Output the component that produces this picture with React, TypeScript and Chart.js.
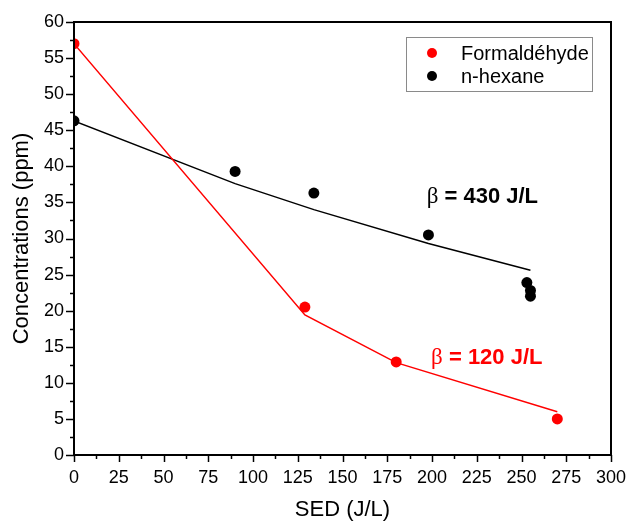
import { useEffect, useRef } from 'react';
import { Chart, registerables } from 'chart.js';

Chart.register(...registerables);

const seriesLabels = ['Formaldéhyde', 'n-hexane'];
const seriesColors = ['#ff0000', '#000000'];

const formaldehydeSED = [0, 129, 180, 270];
const formaldehydeConc = [57, 20.5, 12.9, 5];
const formaldehydeFitSED = [0, 129, 180, 270];
const formaldehydeFit = [57, 19.4, 12.8, 6.0];

const hexaneSED = [0, 90, 134, 198, 253, 255, 255];
const hexaneConc = [46.3, 39.3, 36.3, 30.5, 23.9, 22.8, 22.0];
const hexaneFitSED = [0, 90, 134, 198, 255];
const hexaneFit = [46.3, 37.6, 34.0, 29.3, 25.6];

const xTicks = [0, 25, 50, 75, 100, 125, 150, 175, 200, 225, 250, 275, 300];
const yTicks = [0, 5, 10, 15, 20, 25, 30, 35, 40, 45, 50, 55, 60];

const betaNotes = [
  { beta: 'β', text: ' = 430 J/L', x: 197, y: 36, color: '#000000' },
  { beta: 'β', text: ' = 120 J/L', x: 199.5, y: 13.7, color: '#ff0000' },
];

const FONT = '"Liberation Sans", Arial, sans-serif';

const decorPlugin = {
  id: 'decor',
  afterDraw(chart: any) {
    const ctx = chart.ctx;
    const { left, right, top, bottom } = chart.chartArea;
    const xs = chart.scales.x;
    const ys = chart.scales.y;
    ctx.save();
    // ticks
    ctx.strokeStyle = '#000';
    ctx.lineWidth = 1.5;
    for (let i = 0; i < xTicks.length; i++) {
      const px = Math.round(xs.getPixelForValue(xTicks[i])) + 0.5;
      ctx.beginPath();
      ctx.moveTo(px, bottom);
      ctx.lineTo(px, bottom + 7);
      ctx.stroke();
      if (i < xTicks.length - 1) {
        const mx = Math.round(xs.getPixelForValue((xTicks[i] + xTicks[i + 1]) / 2)) + 0.5;
        ctx.beginPath();
        ctx.moveTo(mx, bottom);
        ctx.lineTo(mx, bottom + 4);
        ctx.stroke();
      }
    }
    for (let i = 0; i < yTicks.length; i++) {
      const py = Math.round(ys.getPixelForValue(yTicks[i])) + 0.5;
      ctx.beginPath();
      ctx.moveTo(left, py);
      ctx.lineTo(left - 8, py);
      ctx.stroke();
      if (i < yTicks.length - 1) {
        const my = Math.round(ys.getPixelForValue((yTicks[i] + yTicks[i + 1]) / 2)) + 0.5;
        ctx.beginPath();
        ctx.moveTo(left, my);
        ctx.lineTo(left - 4, my);
        ctx.stroke();
      }
    }
    // frame
    ctx.lineWidth = 2;
    ctx.strokeRect(left, top, right - left, bottom - top);

    // legend
    const lx = right - 205;
    const ly = top + 15;
    const lw = 186;
    const lh = 54;
    ctx.lineWidth = 1;
    ctx.strokeStyle = '#8a8a8a';
    ctx.strokeRect(lx + 0.5, ly + 0.5, lw, lh);
    ctx.font = `20px ${FONT}`;
    ctx.textBaseline = 'middle';
    ctx.textAlign = 'left';
    for (let i = 0; i < seriesLabels.length; i++) {
      const cy = ly + 16 + i * 23;
      ctx.fillStyle = seriesColors[i];
      ctx.beginPath();
      ctx.arc(lx + 26, cy, 5, 0, Math.PI * 2);
      ctx.fill();
      ctx.fillStyle = '#000';
      ctx.fillText(seriesLabels[i], lx + 55, cy + 1);
    }

    // beta annotations
    ctx.textBaseline = 'alphabetic';
    for (const n of betaNotes) {
      const px = xs.getPixelForValue(n.x);
      const py = ys.getPixelForValue(n.y) + 8;
      ctx.fillStyle = n.color;
      ctx.font = `23px "Liberation Serif", "Times New Roman", serif`;
      ctx.fillText(n.beta, px, py);
      const bw = ctx.measureText(n.beta).width;
      ctx.font = `bold 22px ${FONT}`;
      ctx.fillText(n.text, px + bw, py);
    }
    ctx.restore();
  },
};

export default function App() {
  const ref = useRef<HTMLCanvasElement | null>(null);
  useEffect(() => {
    document.body.style.margin = '0';
    const canvas = ref.current!;
    const chart = new Chart(canvas, {
      type: 'scatter',
      data: {
        datasets: [
          {
            label: seriesLabels[0] + ' fit',
            type: 'line',
            data: formaldehydeFitSED.map((x, i) => ({ x, y: formaldehydeFit[i] })),
            borderColor: seriesColors[0],
            borderWidth: 1.5,
            pointRadius: 0,
            fill: false,
          },
          {
            label: seriesLabels[1] + ' fit',
            type: 'line',
            data: hexaneFitSED.map((x, i) => ({ x, y: hexaneFit[i] })),
            borderColor: seriesColors[1],
            borderWidth: 1.5,
            pointRadius: 0,
            fill: false,
          },
          {
            label: seriesLabels[0],
            data: formaldehydeSED.map((x, i) => ({ x, y: formaldehydeConc[i] })),
            backgroundColor: seriesColors[0],
            borderColor: seriesColors[0],
            pointRadius: 5.5,
            borderWidth: 0,
          },
          {
            label: seriesLabels[1],
            data: hexaneSED.map((x, i) => ({ x, y: hexaneConc[i] })),
            backgroundColor: seriesColors[1],
            borderColor: seriesColors[1],
            pointRadius: 5.5,
            borderWidth: 0,
          },
        ],
      },
      options: {
        responsive: false,
        animation: false,
        layout: { padding: { top: 22, right: 16, left: 0, bottom: 0 } },
        plugins: {
          legend: { display: false },
          tooltip: { enabled: false },
        },
        scales: {
          x: {
            type: 'linear',
            min: 0,
            max: 300,
            grid: { display: false, drawTicks: false },
            border: { display: false },
            afterBuildTicks: (s: any) => {
              s.ticks = xTicks.map((v) => ({ value: v }));
            },
            afterFit: (s: any) => {
              s.height = 68;
              s.paddingLeft = 0;
              s.paddingRight = 0;
            },
            ticks: {
              color: '#000',
              font: { family: FONT, size: 18 },
              padding: 12,
              maxRotation: 0,
              autoSkip: false,
            },
            title: {
              display: true,
              text: 'SED (J/L)',
              color: '#000',
              font: { family: FONT, size: 22 },
              padding: { top: 6, bottom: 0 },
            },
          },
          y: {
            type: 'linear',
            min: 0,
            max: 60,
            grid: { display: false, drawTicks: false },
            border: { display: false },
            afterBuildTicks: (s: any) => {
              s.ticks = yTicks.map((v) => ({ value: v }));
            },
            afterFit: (s: any) => {
              s.width = 74;
              s.paddingTop = 0;
              s.paddingBottom = 0;
            },
            ticks: {
              color: '#000',
              font: { family: FONT, size: 18 },
              padding: 10,
              autoSkip: false,
            },
            title: {
              display: true,
              text: 'Concentrations (ppm)',
              color: '#000',
              font: { family: FONT, size: 22 },
              padding: { top: 9, bottom: 0 },
            },
          },
        },
      },
      plugins: [decorPlugin],
    });
    return () => chart.destroy();
  }, []);
  return (
    <div style={{ position: 'absolute', left: 0, top: 0, width: 627, height: 523, background: '#fff' }}>
      <canvas ref={ref} width={627} height={523} style={{ display: 'block' }} />
    </div>
  );
}
